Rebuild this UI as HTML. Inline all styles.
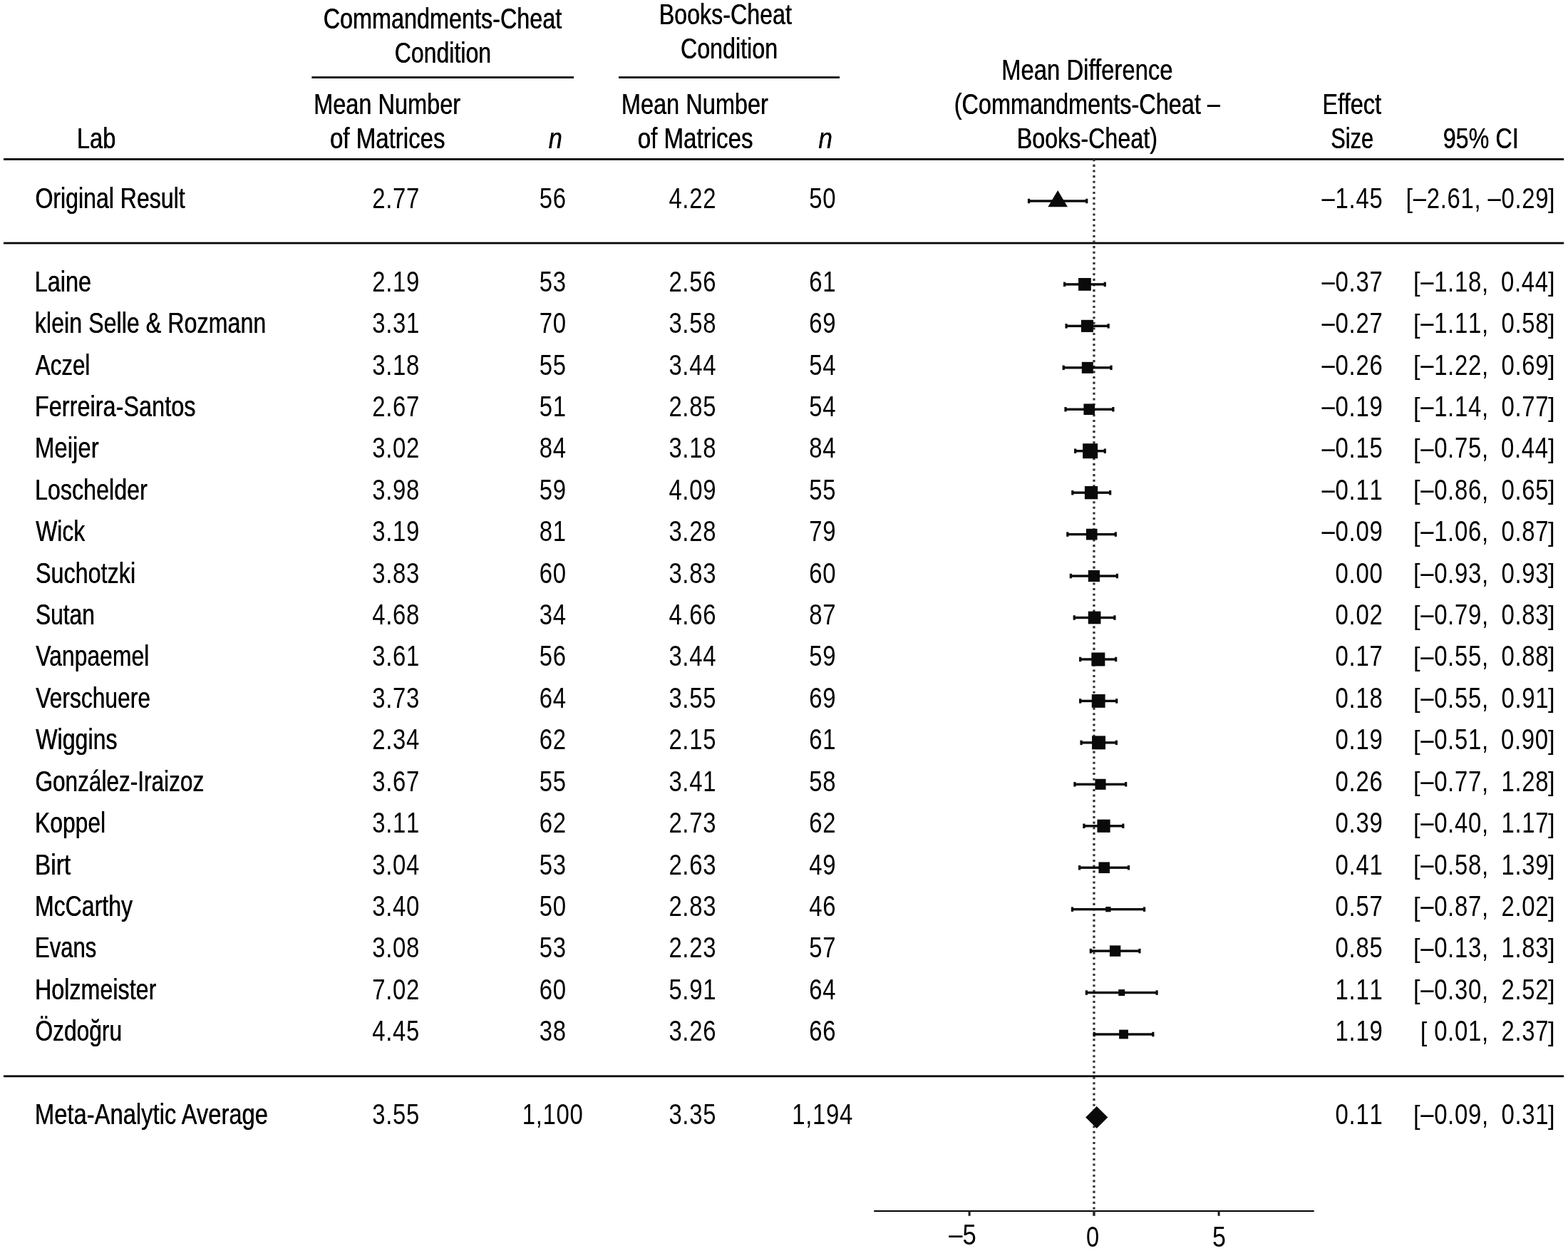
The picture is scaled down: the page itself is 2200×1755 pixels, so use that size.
<!DOCTYPE html>
<html lang="en">
<head>
<meta charset="utf-8">
<title>Forest plot</title>
<style>
html,body{margin:0;padding:0;background:#fff;}
body{width:2200px;height:1755px;overflow:hidden;}
svg{display:block;}
svg text{font-family:"Liberation Sans","DejaVu Sans",sans-serif;font-size:40px;fill:#000;white-space:pre;}
svg text.b{text-shadow:0.45px 0 0 #000;}
svg text.d{font-kerning:none;}
</style>
</head>
<body>
<svg xmlns="http://www.w3.org/2000/svg" width="2200" height="1755" viewBox="0 0 2200 1755">
<rect x="0" y="0" width="2200" height="1755" fill="#ffffff"/>
<g shape-rendering="geometricPrecision">
<rect x="437.40" y="107.20" width="367.60" height="2.80" fill="#060606"/>
<rect x="868.00" y="107.20" width="310.00" height="2.80" fill="#060606"/>
<rect x="5.00" y="222.00" width="2189.20" height="2.80" fill="#060606"/>
<rect x="5.00" y="339.65" width="2189.20" height="2.80" fill="#060606"/>
<rect x="5.00" y="1508.40" width="2189.20" height="2.80" fill="#060606"/>
<line x1="1534.95" y1="223.235" x2="1534.95" y2="1698.5" stroke="#333" stroke-width="3.25" stroke-dasharray="3.07 4.5477"/>
<rect x="1226.25" y="1697.90" width="617.50" height="2.10" fill="#060606"/>
<rect x="1358.60" y="1698.5" width="3.00" height="7.25" fill="#1c1c1c"/>
<rect x="1533.20" y="1698.5" width="3.50" height="7.25" fill="#2a2a2a"/>
<rect x="1708.60" y="1698.5" width="3.00" height="7.25" fill="#1c1c1c"/>
<rect x="1443.55" y="280.30" width="81.20" height="3.4" fill="#0a0a0a"/>
<rect x="1441.95" y="278.75" width="3.2" height="6.5" fill="#0a0a0a"/>
<rect x="1523.15" y="278.75" width="3.2" height="6.5" fill="#0a0a0a"/>
<polygon points="1484.15,267.00 1470.35,290.20 1497.95,290.20" fill="#0a0a0a"/>
<rect x="1493.60" y="397.20" width="56.70" height="3.4" fill="#0a0a0a"/>
<rect x="1492.00" y="395.65" width="3.2" height="6.5" fill="#0a0a0a"/>
<rect x="1548.70" y="395.65" width="3.2" height="6.5" fill="#0a0a0a"/>
<rect x="1513.05" y="390.00" width="17.80" height="17.80" fill="#0a0a0a"/>
<rect x="1496.05" y="455.65" width="59.15" height="3.4" fill="#0a0a0a"/>
<rect x="1494.45" y="454.10" width="3.2" height="6.5" fill="#0a0a0a"/>
<rect x="1553.60" y="454.10" width="3.2" height="6.5" fill="#0a0a0a"/>
<rect x="1516.90" y="448.80" width="17.10" height="17.10" fill="#0a0a0a"/>
<rect x="1492.20" y="514.10" width="66.85" height="3.4" fill="#0a0a0a"/>
<rect x="1490.60" y="512.55" width="3.2" height="6.5" fill="#0a0a0a"/>
<rect x="1557.45" y="512.55" width="3.2" height="6.5" fill="#0a0a0a"/>
<rect x="1517.80" y="507.80" width="16.00" height="16.00" fill="#0a0a0a"/>
<rect x="1495.00" y="572.55" width="66.85" height="3.4" fill="#0a0a0a"/>
<rect x="1493.40" y="571.00" width="3.2" height="6.5" fill="#0a0a0a"/>
<rect x="1560.25" y="571.00" width="3.2" height="6.5" fill="#0a0a0a"/>
<rect x="1520.45" y="566.45" width="15.60" height="15.60" fill="#0a0a0a"/>
<rect x="1508.65" y="631.00" width="41.65" height="3.4" fill="#0a0a0a"/>
<rect x="1507.05" y="629.45" width="3.2" height="6.5" fill="#0a0a0a"/>
<rect x="1548.70" y="629.45" width="3.2" height="6.5" fill="#0a0a0a"/>
<rect x="1519.15" y="622.20" width="21.00" height="21.00" fill="#0a0a0a"/>
<rect x="1504.80" y="689.45" width="52.85" height="3.4" fill="#0a0a0a"/>
<rect x="1503.20" y="687.90" width="3.2" height="6.5" fill="#0a0a0a"/>
<rect x="1556.05" y="687.90" width="3.2" height="6.5" fill="#0a0a0a"/>
<rect x="1521.90" y="682.00" width="18.30" height="18.30" fill="#0a0a0a"/>
<rect x="1497.80" y="747.90" width="67.55" height="3.4" fill="#0a0a0a"/>
<rect x="1496.20" y="746.35" width="3.2" height="6.5" fill="#0a0a0a"/>
<rect x="1563.75" y="746.35" width="3.2" height="6.5" fill="#0a0a0a"/>
<rect x="1523.92" y="741.77" width="15.65" height="15.65" fill="#0a0a0a"/>
<rect x="1502.35" y="806.35" width="65.10" height="3.4" fill="#0a0a0a"/>
<rect x="1500.75" y="804.80" width="3.2" height="6.5" fill="#0a0a0a"/>
<rect x="1565.85" y="804.80" width="3.2" height="6.5" fill="#0a0a0a"/>
<rect x="1526.80" y="799.95" width="16.20" height="16.20" fill="#0a0a0a"/>
<rect x="1507.25" y="864.80" width="56.70" height="3.4" fill="#0a0a0a"/>
<rect x="1505.65" y="863.25" width="3.2" height="6.5" fill="#0a0a0a"/>
<rect x="1562.35" y="863.25" width="3.2" height="6.5" fill="#0a0a0a"/>
<rect x="1526.75" y="857.65" width="17.70" height="17.70" fill="#0a0a0a"/>
<rect x="1515.65" y="923.25" width="50.05" height="3.4" fill="#0a0a0a"/>
<rect x="1514.05" y="921.70" width="3.2" height="6.5" fill="#0a0a0a"/>
<rect x="1564.10" y="921.70" width="3.2" height="6.5" fill="#0a0a0a"/>
<rect x="1531.35" y="915.45" width="19.00" height="19.00" fill="#0a0a0a"/>
<rect x="1515.65" y="981.70" width="51.10" height="3.4" fill="#0a0a0a"/>
<rect x="1514.05" y="980.15" width="3.2" height="6.5" fill="#0a0a0a"/>
<rect x="1565.15" y="980.15" width="3.2" height="6.5" fill="#0a0a0a"/>
<rect x="1531.78" y="973.98" width="18.85" height="18.85" fill="#0a0a0a"/>
<rect x="1517.05" y="1040.15" width="49.35" height="3.4" fill="#0a0a0a"/>
<rect x="1515.45" y="1038.60" width="3.2" height="6.5" fill="#0a0a0a"/>
<rect x="1564.80" y="1038.60" width="3.2" height="6.5" fill="#0a0a0a"/>
<rect x="1532.05" y="1032.35" width="19.00" height="19.00" fill="#0a0a0a"/>
<rect x="1507.95" y="1098.60" width="71.75" height="3.4" fill="#0a0a0a"/>
<rect x="1506.35" y="1097.05" width="3.2" height="6.5" fill="#0a0a0a"/>
<rect x="1578.10" y="1097.05" width="3.2" height="6.5" fill="#0a0a0a"/>
<rect x="1536.45" y="1092.75" width="15.10" height="15.10" fill="#0a0a0a"/>
<rect x="1520.90" y="1157.05" width="54.95" height="3.4" fill="#0a0a0a"/>
<rect x="1519.30" y="1155.50" width="3.2" height="6.5" fill="#0a0a0a"/>
<rect x="1574.25" y="1155.50" width="3.2" height="6.5" fill="#0a0a0a"/>
<rect x="1539.45" y="1149.65" width="18.20" height="18.20" fill="#0a0a0a"/>
<rect x="1514.60" y="1215.50" width="68.95" height="3.4" fill="#0a0a0a"/>
<rect x="1513.00" y="1213.95" width="3.2" height="6.5" fill="#0a0a0a"/>
<rect x="1581.95" y="1213.95" width="3.2" height="6.5" fill="#0a0a0a"/>
<rect x="1541.45" y="1209.40" width="15.60" height="15.60" fill="#0a0a0a"/>
<rect x="1504.45" y="1273.95" width="101.15" height="3.4" fill="#0a0a0a"/>
<rect x="1502.85" y="1272.40" width="3.2" height="6.5" fill="#0a0a0a"/>
<rect x="1604.00" y="1272.40" width="3.2" height="6.5" fill="#0a0a0a"/>
<rect x="1551.20" y="1272.00" width="7.30" height="7.30" fill="#0a0a0a"/>
<rect x="1530.35" y="1332.40" width="68.60" height="3.4" fill="#0a0a0a"/>
<rect x="1528.75" y="1330.85" width="3.2" height="6.5" fill="#0a0a0a"/>
<rect x="1597.35" y="1330.85" width="3.2" height="6.5" fill="#0a0a0a"/>
<rect x="1556.95" y="1326.40" width="15.40" height="15.40" fill="#0a0a0a"/>
<rect x="1524.40" y="1390.85" width="98.70" height="3.4" fill="#0a0a0a"/>
<rect x="1522.80" y="1389.30" width="3.2" height="6.5" fill="#0a0a0a"/>
<rect x="1621.50" y="1389.30" width="3.2" height="6.5" fill="#0a0a0a"/>
<rect x="1569.25" y="1388.05" width="9.00" height="9.00" fill="#0a0a0a"/>
<rect x="1535.25" y="1449.30" width="82.60" height="3.4" fill="#0a0a0a"/>
<rect x="1533.65" y="1447.75" width="3.2" height="6.5" fill="#0a0a0a"/>
<rect x="1616.25" y="1447.75" width="3.2" height="6.5" fill="#0a0a0a"/>
<rect x="1570.15" y="1444.60" width="12.80" height="12.80" fill="#0a0a0a"/>
<polygon points="1538.75,1551.90 1554.35,1567.50 1538.75,1583.10 1523.15,1567.50" fill="#0a0a0a"/>
</g>
<g>
<g class="head">
<text transform="translate(453.48 40.00) scale(0.8097 1)" class="b">Commandments-Cheat</text>
<text transform="translate(553.50 88.25) scale(0.8014 1)" class="b">Condition</text>
<text transform="translate(924.48 33.75) scale(0.8057 1)" class="b">Books-Cheat</text>
<text transform="translate(954.74 82.00) scale(0.8060 1)" class="b">Condition</text>
<text transform="translate(439.96 160.00) scale(0.8132 1)" class="b" xml:space="preserve">Mean Number</text>
<text transform="translate(462.72 207.50) scale(0.8266 1)" class="b" xml:space="preserve">of Matrices</text>
<text transform="translate(769.47 207.50) scale(0.8557 1)" font-style="italic" class="b">n</text>
<text transform="translate(871.71 160.00) scale(0.8132 1)" class="b" xml:space="preserve">Mean Number</text>
<text transform="translate(894.47 207.50) scale(0.8279 1)" class="b" xml:space="preserve">of Matrices</text>
<text transform="translate(1148.20 207.50) scale(0.8802 1)" font-style="italic" class="b">n</text>
<text transform="translate(107.70 207.50) scale(0.8168 1)" class="b">Lab</text>
<text transform="translate(1404.93 112.00) scale(0.8216 1)" class="b" xml:space="preserve">Mean Difference</text>
<text transform="translate(1338.48 160.00) scale(0.8115 1)" class="b" xml:space="preserve">(Commandments-Cheat <tspan dy="-0.80">–</tspan></text>
<text transform="translate(1426.48 207.50) scale(0.8069 1)" class="b">Books-Cheat)</text>
<text transform="translate(1855.20 160.00) scale(0.8156 1)" class="b">Effect</text>
<text transform="translate(1867.04 207.50) scale(0.7693 1)" class="b">Size</text>
<text transform="translate(2024.48 207.50) scale(0.8087 1)" class="b" xml:space="preserve">95% CI</text>
</g>
<g class="row">
<text transform="translate(49.25 291.75) scale(0.8016 1)" class="b" xml:space="preserve">Original Result</text>
<text transform="translate(522.28 291.75) scale(0.8220 1)" letter-spacing="0.85" class="d">2.77</text>
<text transform="translate(756.66 291.75) scale(0.8220 1)" letter-spacing="0.85" class="d">56</text>
<text transform="translate(938.38 291.75) scale(0.8220 1)" letter-spacing="0.85" class="d">4.22</text>
<text transform="translate(1135.16 291.75) scale(0.8220 1)" letter-spacing="0.85" class="d">50</text>
<text transform="translate(1854.62 291.75) scale(0.8220 1)" letter-spacing="0.85" class="d"><tspan dy="-0.80">–</tspan><tspan dy="0.80">1.45</tspan></text>
<text transform="translate(1972.55 291.30) scale(0.8600 0.905)" class="d">[</text>
<text transform="translate(1982.75 291.75) scale(0.8220 1)" letter-spacing="0.85" class="d"><tspan dy="-0.80">–</tspan><tspan dy="0.80">2.61,</tspan></text>
<text transform="translate(2087.46 291.75) scale(0.8220 1)" letter-spacing="0.85" class="d"><tspan dy="-0.80">–</tspan><tspan dy="0.80">0.29</tspan></text>
<text transform="translate(2171.92 291.30) scale(0.8600 0.905)" class="d">]</text>
</g>
<g class="row">
<text transform="translate(48.46 408.75) scale(0.8122 1)" class="b">Laine</text>
<text transform="translate(522.28 408.75) scale(0.8220 1)" letter-spacing="0.85" class="d">2.19</text>
<text transform="translate(756.66 408.75) scale(0.8220 1)" letter-spacing="0.85" class="d">53</text>
<text transform="translate(938.38 408.75) scale(0.8220 1)" letter-spacing="0.85" class="d">2.56</text>
<text transform="translate(1135.16 408.75) scale(0.8220 1)" letter-spacing="0.85" class="d">61</text>
<text transform="translate(1854.62 408.75) scale(0.8220 1)" letter-spacing="0.85" class="d"><tspan dy="-0.80">–</tspan><tspan dy="0.80">0.37</tspan></text>
<text transform="translate(1982.95 408.30) scale(0.8600 0.905)" class="d">[</text>
<text transform="translate(1993.15 408.75) scale(0.8220 1)" letter-spacing="0.85" class="d"><tspan dy="-0.80">–</tspan><tspan dy="0.80">1.18,</tspan></text>
<text transform="translate(2105.93 408.75) scale(0.8220 1)" letter-spacing="0.85" class="d">0.44</text>
<text transform="translate(2171.92 408.30) scale(0.8600 0.905)" class="d">]</text>
</g>
<g class="row">
<text transform="translate(48.58 467.17) scale(0.8068 1)" class="b" xml:space="preserve">klein Selle &amp; Rozmann</text>
<text transform="translate(522.28 467.17) scale(0.8220 1)" letter-spacing="0.85" class="d">3.31</text>
<text transform="translate(756.66 467.17) scale(0.8220 1)" letter-spacing="0.85" class="d">70</text>
<text transform="translate(938.38 467.17) scale(0.8220 1)" letter-spacing="0.85" class="d">3.58</text>
<text transform="translate(1135.16 467.17) scale(0.8220 1)" letter-spacing="0.85" class="d">69</text>
<text transform="translate(1854.62 467.17) scale(0.8220 1)" letter-spacing="0.85" class="d"><tspan dy="-0.80">–</tspan><tspan dy="0.80">0.27</tspan></text>
<text transform="translate(1982.95 466.72) scale(0.8600 0.905)" class="d">[</text>
<text transform="translate(1993.15 467.17) scale(0.8220 1)" letter-spacing="0.85" class="d"><tspan dy="-0.80">–</tspan><tspan dy="0.80">1.11,</tspan></text>
<text transform="translate(2106.44 467.17) scale(0.8220 1)" letter-spacing="0.85" class="d">0.58</text>
<text transform="translate(2171.92 466.72) scale(0.8600 0.905)" class="d">]</text>
</g>
<g class="row">
<text transform="translate(49.60 525.58) scale(0.7833 1)" class="b">Aczel</text>
<text transform="translate(522.28 525.58) scale(0.8220 1)" letter-spacing="0.85" class="d">3.18</text>
<text transform="translate(756.66 525.58) scale(0.8220 1)" letter-spacing="0.85" class="d">55</text>
<text transform="translate(938.38 525.58) scale(0.8220 1)" letter-spacing="0.85" class="d">3.44</text>
<text transform="translate(1135.16 525.58) scale(0.8220 1)" letter-spacing="0.85" class="d">54</text>
<text transform="translate(1854.62 525.58) scale(0.8220 1)" letter-spacing="0.85" class="d"><tspan dy="-0.80">–</tspan><tspan dy="0.80">0.26</tspan></text>
<text transform="translate(1982.95 525.13) scale(0.8600 0.905)" class="d">[</text>
<text transform="translate(1993.15 525.58) scale(0.8220 1)" letter-spacing="0.85" class="d"><tspan dy="-0.80">–</tspan><tspan dy="0.80">1.22,</tspan></text>
<text transform="translate(2106.44 525.58) scale(0.8220 1)" letter-spacing="0.85" class="d">0.69</text>
<text transform="translate(2171.92 525.13) scale(0.8600 0.905)" class="d">]</text>
</g>
<g class="row">
<text transform="translate(48.71 584.00) scale(0.8122 1)" class="b">Ferreira-Santos</text>
<text transform="translate(522.28 584.00) scale(0.8220 1)" letter-spacing="0.85" class="d">2.67</text>
<text transform="translate(756.66 584.00) scale(0.8220 1)" letter-spacing="0.85" class="d">51</text>
<text transform="translate(938.38 584.00) scale(0.8220 1)" letter-spacing="0.85" class="d">2.85</text>
<text transform="translate(1135.16 584.00) scale(0.8220 1)" letter-spacing="0.85" class="d">54</text>
<text transform="translate(1854.62 584.00) scale(0.8220 1)" letter-spacing="0.85" class="d"><tspan dy="-0.80">–</tspan><tspan dy="0.80">0.19</tspan></text>
<text transform="translate(1982.95 583.54) scale(0.8600 0.905)" class="d">[</text>
<text transform="translate(1993.15 584.00) scale(0.8220 1)" letter-spacing="0.85" class="d"><tspan dy="-0.80">–</tspan><tspan dy="0.80">1.14,</tspan></text>
<text transform="translate(2106.44 584.00) scale(0.8220 1)" letter-spacing="0.85" class="d">0.77</text>
<text transform="translate(2171.92 583.54) scale(0.8600 0.905)" class="d">]</text>
</g>
<g class="row">
<text transform="translate(48.67 642.41) scale(0.8252 1)" class="b">Meijer</text>
<text transform="translate(522.28 642.41) scale(0.8220 1)" letter-spacing="0.85" class="d">3.02</text>
<text transform="translate(756.66 642.41) scale(0.8220 1)" letter-spacing="0.85" class="d">84</text>
<text transform="translate(938.38 642.41) scale(0.8220 1)" letter-spacing="0.85" class="d">3.18</text>
<text transform="translate(1135.16 642.41) scale(0.8220 1)" letter-spacing="0.85" class="d">84</text>
<text transform="translate(1854.62 642.41) scale(0.8220 1)" letter-spacing="0.85" class="d"><tspan dy="-0.80">–</tspan><tspan dy="0.80">0.15</tspan></text>
<text transform="translate(1982.95 641.96) scale(0.8600 0.905)" class="d">[</text>
<text transform="translate(1993.15 642.41) scale(0.8220 1)" letter-spacing="0.85" class="d"><tspan dy="-0.80">–</tspan><tspan dy="0.80">0.75,</tspan></text>
<text transform="translate(2105.93 642.41) scale(0.8220 1)" letter-spacing="0.85" class="d">0.44</text>
<text transform="translate(2171.92 641.96) scale(0.8600 0.905)" class="d">]</text>
</g>
<g class="row">
<text transform="translate(48.73 700.83) scale(0.8078 1)" class="b">Loschelder</text>
<text transform="translate(522.28 700.83) scale(0.8220 1)" letter-spacing="0.85" class="d">3.98</text>
<text transform="translate(756.66 700.83) scale(0.8220 1)" letter-spacing="0.85" class="d">59</text>
<text transform="translate(938.38 700.83) scale(0.8220 1)" letter-spacing="0.85" class="d">4.09</text>
<text transform="translate(1135.16 700.83) scale(0.8220 1)" letter-spacing="0.85" class="d">55</text>
<text transform="translate(1854.62 700.83) scale(0.8220 1)" letter-spacing="0.85" class="d"><tspan dy="-0.80">–</tspan><tspan dy="0.80">0.11</tspan></text>
<text transform="translate(1982.95 700.38) scale(0.8600 0.905)" class="d">[</text>
<text transform="translate(1993.15 700.83) scale(0.8220 1)" letter-spacing="0.85" class="d"><tspan dy="-0.80">–</tspan><tspan dy="0.80">0.86,</tspan></text>
<text transform="translate(2106.44 700.83) scale(0.8220 1)" letter-spacing="0.85" class="d">0.65</text>
<text transform="translate(2171.92 700.38) scale(0.8600 0.905)" class="d">]</text>
</g>
<g class="row">
<text transform="translate(50.00 759.24) scale(0.7980 1)" class="b">Wick</text>
<text transform="translate(522.28 759.24) scale(0.8220 1)" letter-spacing="0.85" class="d">3.19</text>
<text transform="translate(756.66 759.24) scale(0.8220 1)" letter-spacing="0.85" class="d">81</text>
<text transform="translate(938.38 759.24) scale(0.8220 1)" letter-spacing="0.85" class="d">3.28</text>
<text transform="translate(1135.16 759.24) scale(0.8220 1)" letter-spacing="0.85" class="d">79</text>
<text transform="translate(1854.62 759.24) scale(0.8220 1)" letter-spacing="0.85" class="d"><tspan dy="-0.80">–</tspan><tspan dy="0.80">0.09</tspan></text>
<text transform="translate(1982.95 758.79) scale(0.8600 0.905)" class="d">[</text>
<text transform="translate(1993.15 759.24) scale(0.8220 1)" letter-spacing="0.85" class="d"><tspan dy="-0.80">–</tspan><tspan dy="0.80">1.06,</tspan></text>
<text transform="translate(2106.44 759.24) scale(0.8220 1)" letter-spacing="0.85" class="d">0.87</text>
<text transform="translate(2171.92 758.79) scale(0.8600 0.905)" class="d">]</text>
</g>
<g class="row">
<text transform="translate(49.74 817.65) scale(0.8089 1)" class="b">Suchotzki</text>
<text transform="translate(522.28 817.65) scale(0.8220 1)" letter-spacing="0.85" class="d">3.83</text>
<text transform="translate(756.66 817.65) scale(0.8220 1)" letter-spacing="0.85" class="d">60</text>
<text transform="translate(938.38 817.65) scale(0.8220 1)" letter-spacing="0.85" class="d">3.83</text>
<text transform="translate(1135.16 817.65) scale(0.8220 1)" letter-spacing="0.85" class="d">60</text>
<text transform="translate(1873.61 817.65) scale(0.8220 1)" letter-spacing="0.85" class="d">0.00</text>
<text transform="translate(1982.95 817.20) scale(0.8600 0.905)" class="d">[</text>
<text transform="translate(1993.15 817.65) scale(0.8220 1)" letter-spacing="0.85" class="d"><tspan dy="-0.80">–</tspan><tspan dy="0.80">0.93,</tspan></text>
<text transform="translate(2106.44 817.65) scale(0.8220 1)" letter-spacing="0.85" class="d">0.93</text>
<text transform="translate(2171.92 817.20) scale(0.8600 0.905)" class="d">]</text>
</g>
<g class="row">
<text transform="translate(49.76 876.07) scale(0.7932 1)" class="b">Sutan</text>
<text transform="translate(522.28 876.07) scale(0.8220 1)" letter-spacing="0.85" class="d">4.68</text>
<text transform="translate(756.66 876.07) scale(0.8220 1)" letter-spacing="0.85" class="d">34</text>
<text transform="translate(938.38 876.07) scale(0.8220 1)" letter-spacing="0.85" class="d">4.66</text>
<text transform="translate(1135.16 876.07) scale(0.8220 1)" letter-spacing="0.85" class="d">87</text>
<text transform="translate(1873.61 876.07) scale(0.8220 1)" letter-spacing="0.85" class="d">0.02</text>
<text transform="translate(1982.95 875.62) scale(0.8600 0.905)" class="d">[</text>
<text transform="translate(1993.15 876.07) scale(0.8220 1)" letter-spacing="0.85" class="d"><tspan dy="-0.80">–</tspan><tspan dy="0.80">0.79,</tspan></text>
<text transform="translate(2106.44 876.07) scale(0.8220 1)" letter-spacing="0.85" class="d">0.83</text>
<text transform="translate(2171.92 875.62) scale(0.8600 0.905)" class="d">]</text>
</g>
<g class="row">
<text transform="translate(50.00 934.49) scale(0.7986 1)" class="b">Vanpaemel</text>
<text transform="translate(522.28 934.49) scale(0.8220 1)" letter-spacing="0.85" class="d">3.61</text>
<text transform="translate(756.66 934.49) scale(0.8220 1)" letter-spacing="0.85" class="d">56</text>
<text transform="translate(938.38 934.49) scale(0.8220 1)" letter-spacing="0.85" class="d">3.44</text>
<text transform="translate(1135.16 934.49) scale(0.8220 1)" letter-spacing="0.85" class="d">59</text>
<text transform="translate(1873.61 934.49) scale(0.8220 1)" letter-spacing="0.85" class="d">0.17</text>
<text transform="translate(1982.95 934.03) scale(0.8600 0.905)" class="d">[</text>
<text transform="translate(1993.15 934.49) scale(0.8220 1)" letter-spacing="0.85" class="d"><tspan dy="-0.80">–</tspan><tspan dy="0.80">0.55,</tspan></text>
<text transform="translate(2106.44 934.49) scale(0.8220 1)" letter-spacing="0.85" class="d">0.88</text>
<text transform="translate(2171.92 934.03) scale(0.8600 0.905)" class="d">]</text>
</g>
<g class="row">
<text transform="translate(50.00 992.90) scale(0.7953 1)" class="b">Verschuere</text>
<text transform="translate(522.28 992.90) scale(0.8220 1)" letter-spacing="0.85" class="d">3.73</text>
<text transform="translate(756.66 992.90) scale(0.8220 1)" letter-spacing="0.85" class="d">64</text>
<text transform="translate(938.38 992.90) scale(0.8220 1)" letter-spacing="0.85" class="d">3.55</text>
<text transform="translate(1135.16 992.90) scale(0.8220 1)" letter-spacing="0.85" class="d">69</text>
<text transform="translate(1873.61 992.90) scale(0.8220 1)" letter-spacing="0.85" class="d">0.18</text>
<text transform="translate(1982.95 992.45) scale(0.8600 0.905)" class="d">[</text>
<text transform="translate(1993.15 992.90) scale(0.8220 1)" letter-spacing="0.85" class="d"><tspan dy="-0.80">–</tspan><tspan dy="0.80">0.55,</tspan></text>
<text transform="translate(2106.44 992.90) scale(0.8220 1)" letter-spacing="0.85" class="d">0.91</text>
<text transform="translate(2171.92 992.45) scale(0.8600 0.905)" class="d">]</text>
</g>
<g class="row">
<text transform="translate(50.00 1051.32) scale(0.8041 1)" class="b">Wiggins</text>
<text transform="translate(522.28 1051.32) scale(0.8220 1)" letter-spacing="0.85" class="d">2.34</text>
<text transform="translate(756.66 1051.32) scale(0.8220 1)" letter-spacing="0.85" class="d">62</text>
<text transform="translate(938.38 1051.32) scale(0.8220 1)" letter-spacing="0.85" class="d">2.15</text>
<text transform="translate(1135.16 1051.32) scale(0.8220 1)" letter-spacing="0.85" class="d">61</text>
<text transform="translate(1873.61 1051.32) scale(0.8220 1)" letter-spacing="0.85" class="d">0.19</text>
<text transform="translate(1982.95 1050.87) scale(0.8600 0.905)" class="d">[</text>
<text transform="translate(1993.15 1051.32) scale(0.8220 1)" letter-spacing="0.85" class="d"><tspan dy="-0.80">–</tspan><tspan dy="0.80">0.51,</tspan></text>
<text transform="translate(2105.93 1051.32) scale(0.8220 1)" letter-spacing="0.85" class="d">0.90</text>
<text transform="translate(2171.92 1050.87) scale(0.8600 0.905)" class="d">]</text>
</g>
<g class="row">
<text transform="translate(49.27 1109.73) scale(0.7892 1)" class="b">González-Iraizoz</text>
<text transform="translate(522.28 1109.73) scale(0.8220 1)" letter-spacing="0.85" class="d">3.67</text>
<text transform="translate(756.66 1109.73) scale(0.8220 1)" letter-spacing="0.85" class="d">55</text>
<text transform="translate(938.38 1109.73) scale(0.8220 1)" letter-spacing="0.85" class="d">3.41</text>
<text transform="translate(1135.16 1109.73) scale(0.8220 1)" letter-spacing="0.85" class="d">58</text>
<text transform="translate(1873.61 1109.73) scale(0.8220 1)" letter-spacing="0.85" class="d">0.26</text>
<text transform="translate(1982.95 1109.28) scale(0.8600 0.905)" class="d">[</text>
<text transform="translate(1993.15 1109.73) scale(0.8220 1)" letter-spacing="0.85" class="d"><tspan dy="-0.80">–</tspan><tspan dy="0.80">0.77,</tspan></text>
<text transform="translate(2106.44 1109.73) scale(0.8220 1)" letter-spacing="0.85" class="d">1.28</text>
<text transform="translate(2171.92 1109.28) scale(0.8600 0.905)" class="d">]</text>
</g>
<g class="row">
<text transform="translate(48.76 1168.14) scale(0.7967 1)" class="b">Koppel</text>
<text transform="translate(522.28 1168.14) scale(0.8220 1)" letter-spacing="0.85" class="d">3.11</text>
<text transform="translate(756.66 1168.14) scale(0.8220 1)" letter-spacing="0.85" class="d">62</text>
<text transform="translate(938.38 1168.14) scale(0.8220 1)" letter-spacing="0.85" class="d">2.73</text>
<text transform="translate(1135.16 1168.14) scale(0.8220 1)" letter-spacing="0.85" class="d">62</text>
<text transform="translate(1873.61 1168.14) scale(0.8220 1)" letter-spacing="0.85" class="d">0.39</text>
<text transform="translate(1982.95 1167.69) scale(0.8600 0.905)" class="d">[</text>
<text transform="translate(1993.15 1168.14) scale(0.8220 1)" letter-spacing="0.85" class="d"><tspan dy="-0.80">–</tspan><tspan dy="0.80">0.40,</tspan></text>
<text transform="translate(2106.44 1168.14) scale(0.8220 1)" letter-spacing="0.85" class="d">1.17</text>
<text transform="translate(2171.92 1167.69) scale(0.8600 0.905)" class="d">]</text>
</g>
<g class="row">
<text transform="translate(48.63 1226.56) scale(0.8397 1)" class="b">Birt</text>
<text transform="translate(522.28 1226.56) scale(0.8220 1)" letter-spacing="0.85" class="d">3.04</text>
<text transform="translate(756.66 1226.56) scale(0.8220 1)" letter-spacing="0.85" class="d">53</text>
<text transform="translate(938.38 1226.56) scale(0.8220 1)" letter-spacing="0.85" class="d">2.63</text>
<text transform="translate(1135.16 1226.56) scale(0.8220 1)" letter-spacing="0.85" class="d">49</text>
<text transform="translate(1873.61 1226.56) scale(0.8220 1)" letter-spacing="0.85" class="d">0.41</text>
<text transform="translate(1982.95 1226.11) scale(0.8600 0.905)" class="d">[</text>
<text transform="translate(1993.15 1226.56) scale(0.8220 1)" letter-spacing="0.85" class="d"><tspan dy="-0.80">–</tspan><tspan dy="0.80">0.58,</tspan></text>
<text transform="translate(2106.44 1226.56) scale(0.8220 1)" letter-spacing="0.85" class="d">1.39</text>
<text transform="translate(2171.92 1226.11) scale(0.8600 0.905)" class="d">]</text>
</g>
<g class="row">
<text transform="translate(48.75 1284.97) scale(0.8014 1)" class="b">McCarthy</text>
<text transform="translate(522.28 1284.97) scale(0.8220 1)" letter-spacing="0.85" class="d">3.40</text>
<text transform="translate(756.66 1284.97) scale(0.8220 1)" letter-spacing="0.85" class="d">50</text>
<text transform="translate(938.38 1284.97) scale(0.8220 1)" letter-spacing="0.85" class="d">2.83</text>
<text transform="translate(1135.16 1284.97) scale(0.8220 1)" letter-spacing="0.85" class="d">46</text>
<text transform="translate(1873.61 1284.97) scale(0.8220 1)" letter-spacing="0.85" class="d">0.57</text>
<text transform="translate(1982.95 1284.52) scale(0.8600 0.905)" class="d">[</text>
<text transform="translate(1993.15 1284.97) scale(0.8220 1)" letter-spacing="0.85" class="d"><tspan dy="-0.80">–</tspan><tspan dy="0.80">0.87,</tspan></text>
<text transform="translate(2106.44 1284.97) scale(0.8220 1)" letter-spacing="0.85" class="d">2.02</text>
<text transform="translate(2171.92 1284.52) scale(0.8600 0.905)" class="d">]</text>
</g>
<g class="row">
<text transform="translate(48.82 1343.39) scale(0.7762 1)" class="b">Evans</text>
<text transform="translate(522.28 1343.39) scale(0.8220 1)" letter-spacing="0.85" class="d">3.08</text>
<text transform="translate(756.66 1343.39) scale(0.8220 1)" letter-spacing="0.85" class="d">53</text>
<text transform="translate(938.38 1343.39) scale(0.8220 1)" letter-spacing="0.85" class="d">2.23</text>
<text transform="translate(1135.16 1343.39) scale(0.8220 1)" letter-spacing="0.85" class="d">57</text>
<text transform="translate(1873.61 1343.39) scale(0.8220 1)" letter-spacing="0.85" class="d">0.85</text>
<text transform="translate(1982.95 1342.94) scale(0.8600 0.905)" class="d">[</text>
<text transform="translate(1993.15 1343.39) scale(0.8220 1)" letter-spacing="0.85" class="d"><tspan dy="-0.80">–</tspan><tspan dy="0.80">0.13,</tspan></text>
<text transform="translate(2106.44 1343.39) scale(0.8220 1)" letter-spacing="0.85" class="d">1.83</text>
<text transform="translate(2171.92 1342.94) scale(0.8600 0.905)" class="d">]</text>
</g>
<g class="row">
<text transform="translate(48.73 1401.80) scale(0.8078 1)" class="b">Holzmeister</text>
<text transform="translate(522.28 1401.80) scale(0.8220 1)" letter-spacing="0.85" class="d">7.02</text>
<text transform="translate(756.66 1401.80) scale(0.8220 1)" letter-spacing="0.85" class="d">60</text>
<text transform="translate(938.38 1401.80) scale(0.8220 1)" letter-spacing="0.85" class="d">5.91</text>
<text transform="translate(1135.16 1401.80) scale(0.8220 1)" letter-spacing="0.85" class="d">64</text>
<text transform="translate(1873.61 1401.80) scale(0.8220 1)" letter-spacing="0.85" class="d">1.11</text>
<text transform="translate(1982.95 1401.35) scale(0.8600 0.905)" class="d">[</text>
<text transform="translate(1993.15 1401.80) scale(0.8220 1)" letter-spacing="0.85" class="d"><tspan dy="-0.80">–</tspan><tspan dy="0.80">0.30,</tspan></text>
<text transform="translate(2106.44 1401.80) scale(0.8220 1)" letter-spacing="0.85" class="d">2.52</text>
<text transform="translate(2171.92 1401.35) scale(0.8600 0.905)" class="d">]</text>
</g>
<g class="row">
<text transform="translate(49.26 1460.22) scale(0.7930 1)" class="b">Özdoğru</text>
<text transform="translate(522.28 1460.22) scale(0.8220 1)" letter-spacing="0.85" class="d">4.45</text>
<text transform="translate(756.66 1460.22) scale(0.8220 1)" letter-spacing="0.85" class="d">38</text>
<text transform="translate(938.38 1460.22) scale(0.8220 1)" letter-spacing="0.85" class="d">3.26</text>
<text transform="translate(1135.16 1460.22) scale(0.8220 1)" letter-spacing="0.85" class="d">66</text>
<text transform="translate(1873.61 1460.22) scale(0.8220 1)" letter-spacing="0.85" class="d">1.19</text>
<text transform="translate(1992.85 1459.77) scale(0.8600 0.905)" class="d">[</text>
<text transform="translate(2012.13 1460.22) scale(0.8220 1)" letter-spacing="0.85" class="d">0.01,</text>
<text transform="translate(2106.44 1460.22) scale(0.8220 1)" letter-spacing="0.85" class="d">2.37</text>
<text transform="translate(2171.92 1459.77) scale(0.8600 0.905)" class="d">]</text>
</g>
<g class="row">
<text transform="translate(48.69 1577.00) scale(0.8192 1)" class="b" xml:space="preserve">Meta-Analytic Average</text>
<text transform="translate(522.28 1577.00) scale(0.8220 1)" letter-spacing="0.85" class="d">3.55</text>
<text transform="translate(732.76 1577.00) scale(0.8220 1)" letter-spacing="0.85" class="d">1,100</text>
<text transform="translate(938.38 1577.00) scale(0.8220 1)" letter-spacing="0.85" class="d">3.35</text>
<text transform="translate(1111.26 1577.00) scale(0.8220 1)" letter-spacing="0.85" class="d">1,194</text>
<text transform="translate(1873.61 1577.00) scale(0.8220 1)" letter-spacing="0.85" class="d">0.11</text>
<text transform="translate(1982.95 1576.55) scale(0.8600 0.905)" class="d">[</text>
<text transform="translate(1993.15 1577.00) scale(0.8220 1)" letter-spacing="0.85" class="d"><tspan dy="-0.80">–</tspan><tspan dy="0.80">0.09,</tspan></text>
<text transform="translate(2106.44 1577.00) scale(0.8220 1)" letter-spacing="0.85" class="d">0.31</text>
<text transform="translate(2171.92 1576.55) scale(0.8600 0.905)" class="d">]</text>
</g>
<g class="axis">
<text transform="translate(1331.20 1745.60) scale(0.8677 1)" class="d"><tspan dy="-0.80">–</tspan><tspan dy="0.80">5</tspan></text>
<text transform="translate(1523.88 1748.90) scale(0.8150 1)" class="d">0</text>
<text transform="translate(1700.94 1748.90) scale(0.8516 1)" class="d">5</text>
</g>
</g>
</svg>
</body>
</html>
